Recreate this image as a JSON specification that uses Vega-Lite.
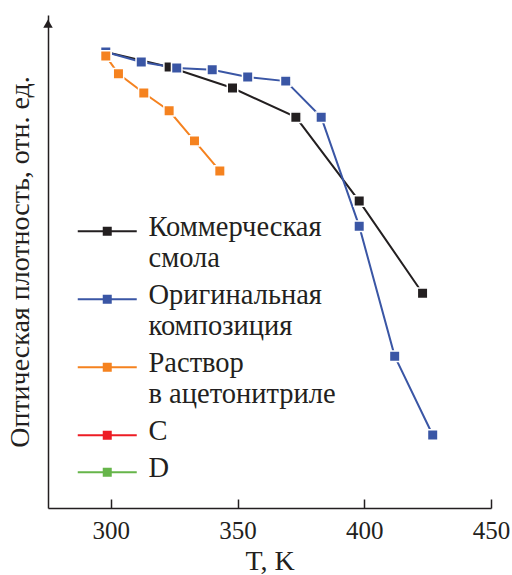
{
  "$schema": "https://vega.github.io/schema/vega-lite/v6.json",
  "autosize": "none",
  "width": 443,
  "height": 493,
  "padding": {"left": 48, "top": 15, "right": 21, "bottom": 67},
  "background": "white",
  "config": {
    "view": {"stroke": null},
    "font": "Liberation Serif",
    "axis": {"labelFont": "Liberation Serif", "titleFont": "Liberation Serif", "labelColor": "#231f20", "titleColor": "#231f20", "domainColor": "#231f20", "tickColor": "#231f20", "labelFontSize": 25, "titleFontSize": 28, "titleFontWeight": "normal", "grid": false, "domainWidth": 1.5, "tickWidth": 1.5, "labelFlush": false},
    "legend": {
      "orient": "none", "legendX": 45, "legendY": 207, "title": null, "padding": 0,
      "symbolType": "M-5.9,-1.2H-0.9V-1.9H0.9V-1.2H5.9V-0.8H0.9V-0.1H-0.9V-0.8H-5.9Z",
      "symbolSize": 100, "symbolStrokeWidth": 0, "symbolOpacity": 1,
      "labelFont": "Liberation Serif", "labelFontSize": 28.5, "labelColor": "#231f20",
      "labelOffset": 27, "labelBaseline": "alphabetic", "labelLimit": 400, "rowPadding": 8
    }
  },
  "datasets": {
    "series": [
      {"T": 298, "D": 1.000, "s": "Коммерческая смола"},
      {"T": 323, "D": 0.967, "s": "Коммерческая смола"},
      {"T": 348, "D": 0.921, "s": "Коммерческая смола"},
      {"T": 373, "D": 0.857, "s": "Коммерческая смола"},
      {"T": 398, "D": 0.673, "s": "Коммерческая смола"},
      {"T": 423, "D": 0.471, "s": "Коммерческая смола"},
      {"T": 298, "D": 1.000, "s": "Оригинальная композиция"},
      {"T": 312, "D": 0.978, "s": "Оригинальная композиция"},
      {"T": 326, "D": 0.965, "s": "Оригинальная композиция"},
      {"T": 340, "D": 0.961, "s": "Оригинальная композиция"},
      {"T": 354, "D": 0.945, "s": "Оригинальная композиция"},
      {"T": 369, "D": 0.936, "s": "Оригинальная композиция"},
      {"T": 383, "D": 0.857, "s": "Оригинальная композиция"},
      {"T": 398, "D": 0.618, "s": "Оригинальная композиция"},
      {"T": 412, "D": 0.333, "s": "Оригинальная композиция"},
      {"T": 427, "D": 0.160, "s": "Оригинальная композиция"},
      {"T": 298, "D": 0.991, "s": "Раствор в ацетонитриле"},
      {"T": 303, "D": 0.952, "s": "Раствор в ацетонитриле"},
      {"T": 313, "D": 0.910, "s": "Раствор в ацетонитриле"},
      {"T": 323, "D": 0.871, "s": "Раствор в ацетонитриле"},
      {"T": 333, "D": 0.805, "s": "Раствор в ацетонитриле"},
      {"T": 343, "D": 0.739, "s": "Раствор в ацетонитриле"}
    ],
    "arrow": [{"T": 275.2, "D": 1.062}]
  },
  "layer": [
    {
      "data": {"name": "series"},
      "mark": {"type": "line", "strokeWidth": 2},
      "encoding": {
        "x": {"field": "T", "type": "quantitative", "scale": {"domain": [275.2, 450], "nice": false, "zero": false},
              "axis": {"values": [300, 350, 400, 450], "tickSize": -9, "labelPadding": 19, "title": "T, K", "titlePadding": 4}},
        "y": {"field": "D", "type": "quantitative", "scale": {"domain": [0, 1.081], "nice": false},
              "axis": {"ticks": false, "labels": false, "title": "Оптическая плотность, отн. ед.", "titleFontSize": 28, "titlePadding": 14}},
        "color": {"field": "s", "type": "nominal",
                  "scale": {"domain": ["Коммерческая смола", "Оригинальная композиция", "Раствор в ацетонитриле", "C", "D"],
                            "range": ["#231f20", "#3a56a5", "#f5821f", "#ed1c24", "#66b54a"]},
                  "legend": {"labelExpr": "datum.label == 'Коммерческая смола' ? ['Коммерческая', 'смола'] : datum.label == 'Оригинальная композиция' ? ['Оригинальная', 'композиция'] : datum.label == 'Раствор в ацетонитриле' ? ['Раствор', 'в ацетонитриле'] : datum.label"}}
      }
    },
    {
      "data": {"name": "series"},
      "mark": {"type": "point", "shape": "square", "filled": true, "size": 110, "opacity": 1, "stroke": "white", "strokeWidth": 1.5},
      "encoding": {
        "x": {"field": "T", "type": "quantitative"},
        "y": {"field": "D", "type": "quantitative"},
        "fill": {"field": "s", "type": "nominal",
                 "scale": {"domain": ["Коммерческая смола", "Оригинальная композиция", "Раствор в ацетонитриле", "C", "D"],
                           "range": ["#231f20", "#3a56a5", "#f5821f", "#ed1c24", "#66b54a"]},
                 "legend": null}
      }
    },
    {
      "data": {"name": "arrow"},
      "mark": {"type": "point", "shape": "triangle-up", "filled": true, "size": 90, "color": "#231f20", "opacity": 1, "clip": false},
      "encoding": {
        "x": {"field": "T", "type": "quantitative"},
        "y": {"field": "D", "type": "quantitative"}
      }
    }
  ]
}
